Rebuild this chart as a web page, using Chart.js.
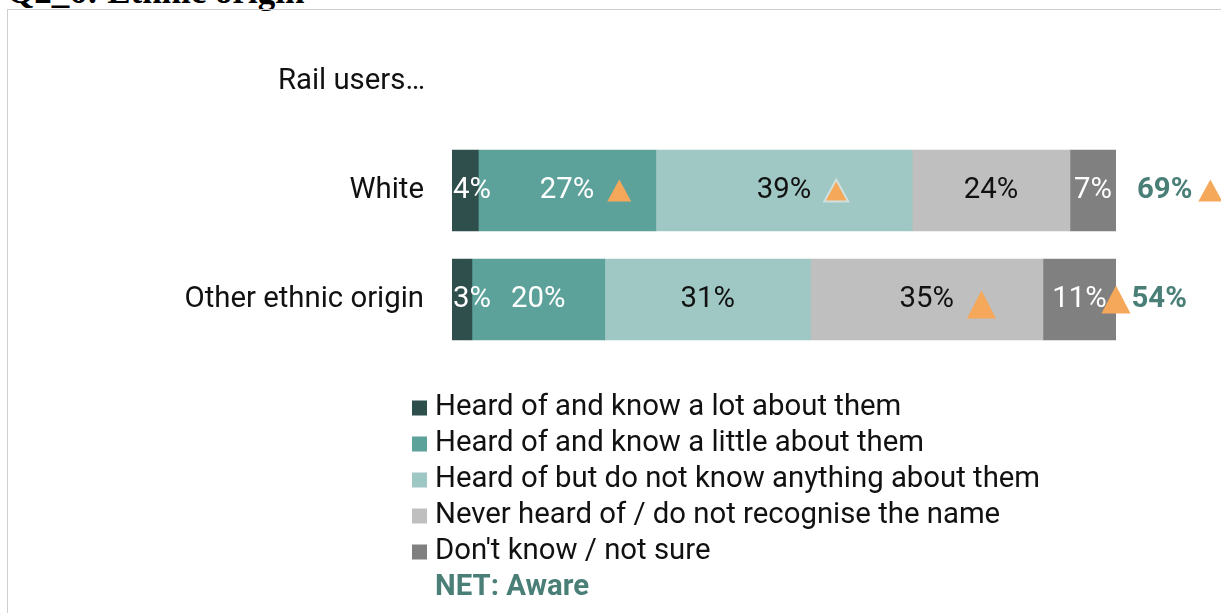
<!DOCTYPE html>
<html>
<head>
<meta charset="utf-8">
<script src="https://cdn.jsdelivr.net/npm/chart.js@4/dist/chart.umd.min.js"></script>
<style>
  html, body { margin: 0; padding: 0; background: #fff; overflow: hidden; }
  #title { position: absolute; left: 7px; top: -28px; font: bold 35px "Liberation Serif", serif; white-space: nowrap; color: #000; }
  #frame { position: absolute; left: 7px; top: 9px; width: 1300px; height: 700px; border: 1px solid #cfcfcf; }
  #wrap { position: absolute; left: 0; top: 0; width: 1221px; height: 613px; }
</style>
</head>
<body>
<div id="title">Q2_6: Ethnic origin</div>
<div id="frame"></div>
<div id="wrap"><canvas id="chart"></canvas></div>
<script>
const categories = ["White", "Other ethnic origin"];
const seriesNames = [
  "Heard of and know a lot about them",
  "Heard of and know a little about them",
  "Heard of but do not know anything about them",
  "Never heard of / do not recognise the name",
  "Don't know / not sure"
];
const lotValues = [4, 3];
const littleValues = [27, 20];
const nothingValues = [39, 31];
const neverValues = [24, 35];
const dontKnowValues = [7, 11];
const netAware = [69, 54];

// significance markers: 0 none, 1 triangle, 2 outlined triangle
const lotSig = [0, 0];
const littleSig = [1, 0];
const nothingSig = [2, 0];
const neverSig = [0, 1];
const dontKnowSig = [0, 1];
const netSig = [1, 0];

const seriesValues = [lotValues, littleValues, nothingValues, neverValues, dontKnowValues];
const seriesSig = [lotSig, littleSig, nothingSig, neverSig, dontKnowSig];
const colors = ["#2F4F4C", "#5DA29A", "#9FC7C3", "#BFBFBF", "#808080"];
const textColors = ["#fff", "#fff", "#111", "#111", "#fff"];
const orange = "#F5A85A";
const netColor = "#4A7F78";
const FS = 29.33; // 22pt

// 100% stacked: each row is scaled to its own total
const rowTotals = categories.map((c, i) => seriesValues.reduce((s, arr) => s + arr[i], 0));

const datasets = seriesNames.map((name, k) => ({
  label: name,
  data: seriesValues[k].map((v, i) => v / rowTotals[i] * 100),
  raw: seriesValues[k],
  sig: seriesSig[k],
  textColor: textColors[k],
  backgroundColor: colors[k],
  borderWidth: 0,
  barThickness: 81
}));

function triangle(ctx, cx, cy, w, h, outline) {
  ctx.beginPath();
  ctx.moveTo(cx, cy - h / 2);
  ctx.lineTo(cx + w / 2, cy + h / 2);
  ctx.lineTo(cx - w / 2, cy + h / 2);
  ctx.closePath();
  ctx.fillStyle = orange;
  ctx.fill();
  if (outline) {
    ctx.strokeStyle = "#cfe1de";
    ctx.lineWidth = 2;
    ctx.stroke();
  }
}

const triSize = [[24, 22], [29, 28]];

const overlay = {
  id: "overlay",
  afterDatasetsDraw(chart) {
    const ctx = chart.ctx;
    const area = chart.chartArea;
    ctx.save();
    ctx.textBaseline = "middle";

    // segment labels + markers
    const lastRight = categories.map(() => 0);
    chart.data.datasets.forEach((ds, di) => {
      const meta = chart.getDatasetMeta(di);
      meta.data.forEach((bar, i) => {
        const left = Math.min(bar.x, bar.base), right = Math.max(bar.x, bar.base);
        const txt = ds.raw[i] + "%";
        ctx.font = FS + "px Roboto";
        const tw = ctx.measureText(txt).width;
        const cx = Math.max((left + right) / 2, area.left + tw / 2 + 1);
        ctx.textAlign = "center";
        ctx.fillStyle = ds.textColor;
        ctx.fillText(txt, cx, bar.y);
        if (ds.sig[i]) {
          const [w, h] = triSize[i];
          const tx = Math.min(cx + tw / 2 + 13 + w / 2, right);
          const ty = (i === 1 && tx < right) ? bar.y + 5 : bar.y;
          triangle(ctx, tx, ty, w, h, ds.sig[i] === 2);
          lastRight[i] = Math.max(lastRight[i], tx + w / 2);
        }
      });
    });

    // NET column
    const endMeta = chart.getDatasetMeta(chart.data.datasets.length - 1);
    endMeta.data.forEach((bar, i) => {
      const x = lastRight[i] > bar.x ? lastRight[i] + 1 : bar.x + 21;
      const txt = netAware[i] + "%";
      ctx.font = "bold " + FS + "px Roboto";
      ctx.textAlign = "left";
      ctx.fillStyle = netColor;
      ctx.fillText(txt, x, bar.y);
      if (netSig[i]) {
        const [w, h] = triSize[i];
        const tw = ctx.measureText(txt).width;
        triangle(ctx, x + tw + 6 + w / 2, bar.y, w, h, false);
      }
    });

    // header above the bars
    ctx.font = FS + "px Roboto";
    ctx.textAlign = "right";
    ctx.fillStyle = "#111";
    ctx.fillText("Rail users\u2026", 425, 82);

    // legend
    ctx.textAlign = "left";
    chart.data.datasets.forEach((ds, k) => {
      const y = 408 + k * 36;
      ctx.fillStyle = ds.backgroundColor;
      ctx.fillRect(412, y - 7.5, 15, 15);
      ctx.fillStyle = "#111";
      ctx.fillText(ds.label, 435, y);
    });
    ctx.font = "bold " + FS + "px Roboto";
    ctx.fillStyle = netColor;
    ctx.fillText("NET: Aware", 435, 408 + 5 * 36);

    ctx.restore();
  }
};

new Chart(document.getElementById("chart"), {
  type: "bar",
  data: { labels: categories, datasets: datasets },
  plugins: [overlay],
  options: {
    indexAxis: "y",
    responsive: true,
    maintainAspectRatio: false,
    animation: false,
    layout: { padding: { top: 136, right: 105, bottom: 259, left: 0 } },
    plugins: {
      legend: { display: false },
      tooltip: { enabled: false }
    },
    scales: {
      x: { stacked: true, min: 0, max: 100, display: false },
      y: {
        stacked: true,
        grid: { display: false },
        border: { display: false },
        afterFit(scale) { scale.width = 452; },
        ticks: { padding: 20, color: "#111", font: { family: "Roboto", size: FS } }
      }
    }
  }
});
</script>
</body>
</html>
